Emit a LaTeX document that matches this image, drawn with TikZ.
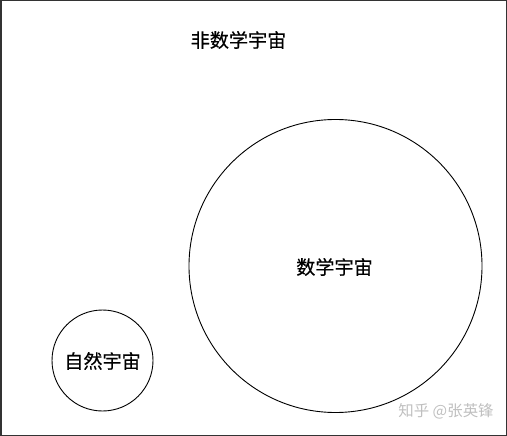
\documentclass[tikz,border=0pt]{standalone}
\usepackage{fontspec}
\newfontfamily\cjk[FakeBold=0.4]{Noto Sans CJK SC}
\newfontfamily\cjklight{Noto Sans CJK SC}
\begin{document}
\begin{tikzpicture}[x=1bp,y=-1bp,
  label/.style={font=\cjk\fontsize{19.2}{21}\selectfont, inner sep=0pt},
  universe/.style={draw, circle, line width=0.9bp, inner sep=0pt}]
\useasboundingbox (0,0) rectangle (507,436);
\draw[line width=1.5bp, black!80] (0.75,0.75) rectangle (506.25,435.25);
\node[label] (nonmath) at (238.5,40) {非数学宇宙};
\node[universe, minimum size=293bp] (math) at (335.5,266) {};
\node[label] at (334.5,267) {数学宇宙};
\node[universe, minimum size=101bp] (nature) at (102.5,360.5) {};
\node[label] at (102.5,361) {自然宇宙};
\node[font=\cjklight\fontsize{15.5}{17}\selectfont, text=black!25, inner sep=0pt] (mark) at (446,411) {知乎 @张英锋};
\end{tikzpicture}
\end{document}
